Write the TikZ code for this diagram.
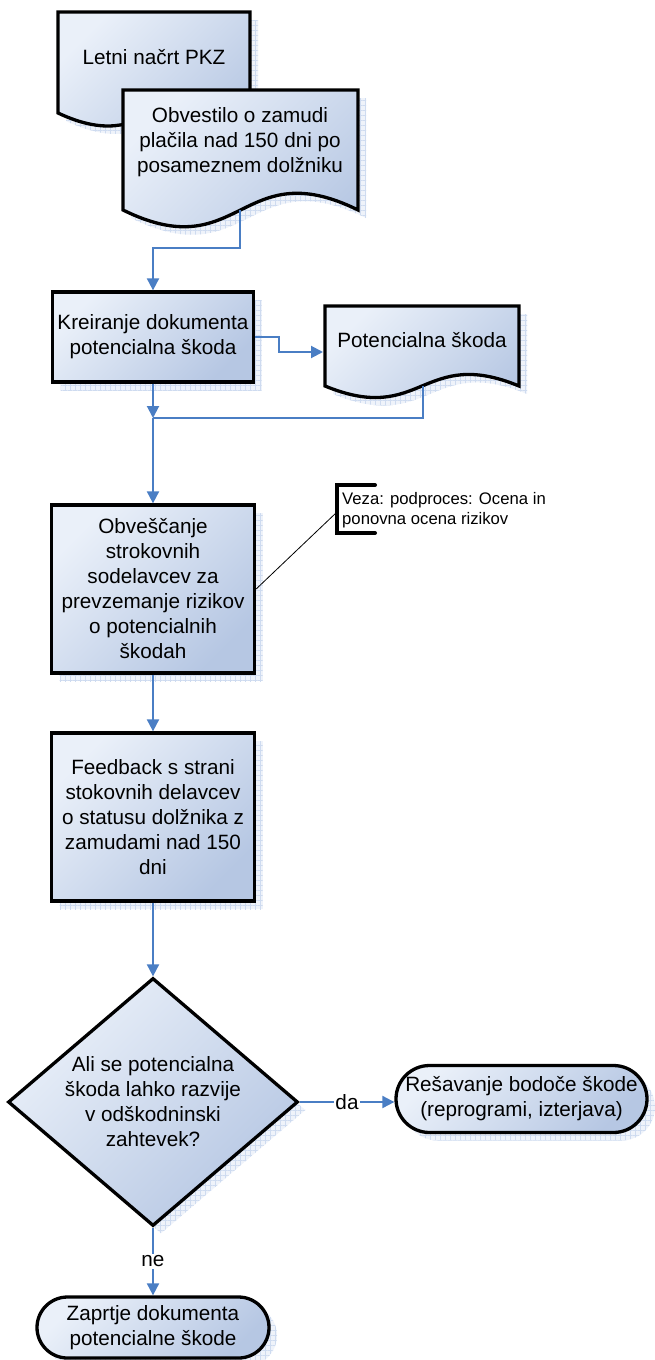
\documentclass[tikz,border=0pt]{standalone}
\usepackage{fontspec}
\setmainfont{Liberation Sans}
\usetikzlibrary{arrows.meta,shapes.geometric,shapes.misc,shadows,patterns.meta}

\definecolor{fillhi}{RGB}{234,240,249}
\definecolor{filllo}{RGB}{182,199,227}
\definecolor{flowblue}{RGB}{74,126,196}
\definecolor{shadefill}{RGB}{239,243,250}
\definecolor{shadegrid}{RGB}{206,219,240}

\tikzset{
  gridshadow/.style={
    general shadow={fill=shadefill, shadow xshift=8pt, shadow yshift=-8pt},
    general shadow={pattern={Hatch[angle=0,distance=5pt,line width=0.4pt]},
                    pattern color=shadegrid, shadow xshift=8pt, shadow yshift=-8pt}},
  shapefill/.style={top color=fillhi, bottom color=filllo, shading angle=45,
                    draw=black, line width=3.3pt, line join=miter},
  maintext/.style={font=\fontsize{20.7pt}{25pt}\selectfont, align=center, text=black},
  procbox/.style={shapefill, gridshadow, rectangle, maintext, inner sep=3pt},
  termbox/.style={shapefill, gridshadow, rounded rectangle, maintext, inner sep=3pt},
  decbox/.style={shapefill, gridshadow, diamond, inner sep=0pt},
  conn/.style={draw=flowblue, line width=2pt, -{Triangle[length=12pt,width=12pt]}},
  link/.style={draw=flowblue, line width=2pt},
  flowlabel/.style={maintext, fill=white, inner sep=1.5pt},
  notetext/.style={font=\fontsize{16.7pt}{20pt}\selectfont, align=left, text=black, inner sep=0pt}
}

% document symbol: flat top, wavy bottom edge
\newcommand\docoutline[5]{%
  \path[shapefill, gridshadow] (#1,#2) -- (#3,#2) -- (#3,#4)
    .. controls ({(#1+#3)/2},{#4-#5}) and ({(#1+#3)/2},{#4+#5}) .. (#1,#4) -- cycle;}

\begin{document}
\begin{tikzpicture}[x=1pt, y=-1pt]
\useasboundingbox (0,0) rectangle (654,1360);

% documents at the top
\docoutline{58}{12}{250}{113}{45}
\node[maintext] (plan) at (154,57) {Letni načrt PKZ};
\docoutline{123}{90}{358}{210}{58}
\node[maintext] (notice) at (240,142) {Obvestilo o zamudi\\plačila nad 150 dni po\\posameznem dolžniku};
\coordinate (noticeout) at (240,210);

% create document
\node[procbox, minimum width=201pt, minimum height=90pt] (create) at (153,337)
  {Kreiranje dokumenta\\potencialna škoda};

% output document
\docoutline{325}{306}{519}{386}{40}
\node[maintext] (damage) at (422,340) {Potencialna škoda};
\coordinate (damagein) at (323,352);
\coordinate (damageout) at (423,386);
\coordinate (join) at (153,418);

% inform experts
\node[procbox, minimum width=203pt, minimum height=168pt] (inform) at (153,589)
  {Obveščanje\\strokovnih\\sodelavcev za\\prevzemanje rizikov\\o potencialnih\\škodah};

% feedback
\node[procbox, minimum width=203pt, minimum height=168pt] (feedback) at (153,817)
  {Feedback s strani\\stokovnih delavcev\\o statusu dolžnika z\\zamudami nad 150\\dni};

% decision
\node[decbox, minimum width=290pt, minimum height=248pt] (decide) at (153,1102) {};
\node[maintext] (decidetext) at (153,1102) {Ali se potencialna\\škoda lahko razvije\\v odškodninski\\zahtevek?};

% end states
\node[termbox, minimum width=257pt, minimum height=67pt] (resolve) at (521.5,1099)
  {Rešavanje bodoče škode\\(reprogrami, izterjava)};
\node[termbox, minimum width=238pt, minimum height=61pt] (close) at (153,1327.5)
  {Zaprtje dokumenta\\potencialne škode};

% annotation
\draw[line width=4pt, line cap=round, line join=miter] (375,485) -- (337,485) -- (337,533) -- (375,533);
\coordinate (notehook) at (337,512);
\node[notetext, anchor=west] (note) at (342,510) {Veza: podproces: Ocena in\\ponovna ocena rizikov};
\draw[black, line width=0.8pt] (notehook) -- (inform.east);

% connectors
\draw[conn] (noticeout) -- ++(0,38) -| (create.north);
\draw[conn] (create.east) -- ++(24,0) |- (damagein);
\draw[conn] (create.south) -- (join);
\draw[link] (damageout) |- (join);
\draw[conn] (join) -- (inform.north);
\draw[conn] (inform.south) -- (feedback.north);
\draw[conn] (feedback.south) -- (decide.north);
\draw[conn] (decide.east) -- node[flowlabel] {da} (decide.east -| resolve.west);
\draw[conn] (decide.south) -- node[flowlabel] {ne} (close.north);
\end{tikzpicture}
\end{document}
